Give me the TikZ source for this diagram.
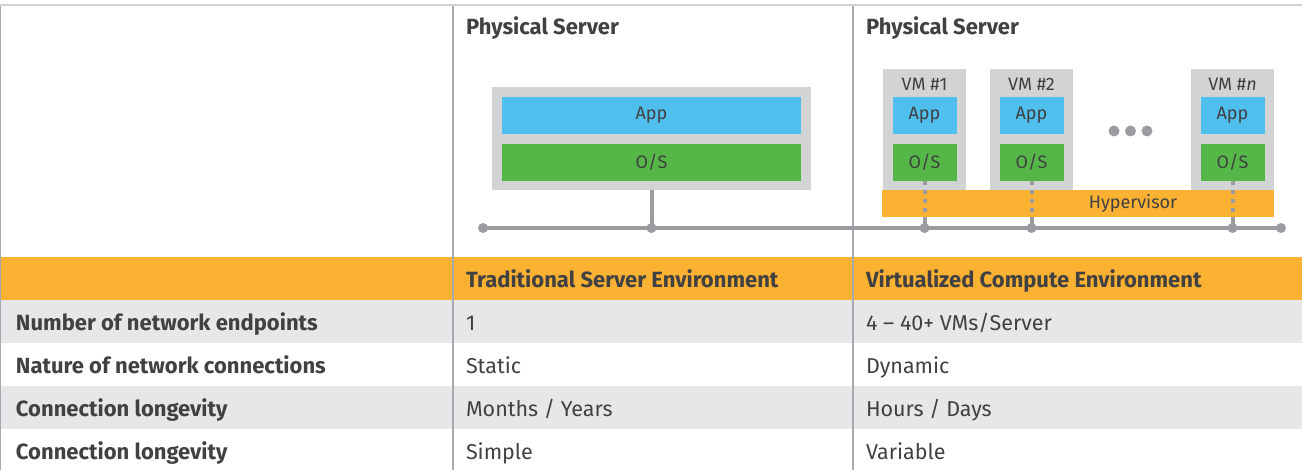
\documentclass[tikz,border=0pt]{standalone}
\usepackage{fontspec}
\setmainfont{Fira Sans}
\definecolor{orangec}{HTML}{FBB131}
\definecolor{bluec}{HTML}{4FBFED}
\definecolor{greenc}{HTML}{55B748}
\definecolor{boxgray}{HTML}{D1D3D4}
\definecolor{rowgray}{HTML}{E6E7E8}
\definecolor{netgray}{HTML}{9B9C9F}
\definecolor{divgray}{HTML}{A7A9AC}
\definecolor{topgray}{HTML}{D0D1D3}
\definecolor{txt}{HTML}{414042}
\begin{document}
\begin{tikzpicture}[x=1pt,y=-1pt,
  every node/.style={inner sep=0pt, outer sep=0pt, text=txt},
  boxg/.style={rectangle, fill=boxgray, anchor=center},
  appbox/.style={rectangle, fill=bluec, minimum height=37pt, font=\fontsize{18}{21}\selectfont},
  osbox/.style={rectangle, fill=greenc, minimum height=37pt, font=\fontsize{18}{21}\selectfont},
  vmlabel/.style={font=\fontsize{18}{21}\selectfont},
  hdr/.style={anchor=base west, font=\fontsize{22}{26}\bfseries},
  rowlab/.style={anchor=base west, font=\fontsize{22}{26}\bfseries},
  cell/.style={anchor=base west, font=\fontsize{21.5}{25}\selectfont},
  net/.style={draw=netgray, line width=4pt},
  netdot/.style={circle, fill=netgray, minimum size=10pt},
  vlink/.style={draw=netgray, line width=4pt, dash pattern=on 4pt off 5pt}
]
\useasboundingbox (0,0) rectangle (1302,470);
% table backgrounds
\fill[orangec] (0,257) rectangle (1302,300);
\fill[rowgray] (0,300) rectangle (1302,343);
\fill[rowgray] (0,386) rectangle (1302,429);
% grid lines
\draw[divgray, line width=1.2pt] (453,5) -- (453,470);
\draw[divgray, line width=1.2pt] (853,5) -- (853,470);
\draw[divgray, line width=1.2pt] (0.8,5) -- (0.8,470);
\draw[topgray, line width=2pt] (0,5) -- (1302,5);

% headers
\node[hdr] (ps1) at (466,35) {Physical Server};
\node[hdr] (ps2) at (866,35) {Physical Server};

% network line
\coordinate (netL) at (483,228);
\coordinate (netR) at (1281,228);
\coordinate (j0) at (653,228);
\coordinate (j1) at (924,228);
\coordinate (j2) at (1031,228);
\coordinate (jn) at (1233,228);

% traditional server
\node[boxg, minimum width=319pt, minimum height=103pt] (srv) at (651.5,138.5) {};
\node[appbox, minimum width=299pt] (app0) at (651.5,115.5) {App};
\node[osbox, minimum width=299pt] (os0) at (651.5,162.5) {O/S};

% VMs
\foreach \n/\x/\lab in {1/924.5/{VM \#1}, 2/1031.5/{VM \#2}, n/1232.5/{VM \#\textit{n}}}{
  \node[boxg, minimum width=83pt, minimum height=121pt] (vm\n) at (\x,129.5) {};
  \node[vmlabel] (vml\n) at (\x,84) {\lab};
  \node[appbox, minimum width=64pt] (app\n) at (\x,115.5) {App};
  \node[osbox, minimum width=64pt] (os\n) at (\x,162.5) {O/S};
}
\node[circle, fill=netgray, minimum size=11pt] (d1) at (1114,131) {};
\node[circle, fill=netgray, minimum size=11pt] (d2) at (1130.5,131) {};
\node[circle, fill=netgray, minimum size=11pt] (d3) at (1147,131) {};

% hypervisor
\node[rectangle, fill=orangec, minimum width=392pt, minimum height=27pt] (hyp) at (1078,203.5) {};
\node[vmlabel] (hyplab) at (1133,203) {Hypervisor};

% links
\draw[net] (netL) -- (netR);
\draw[net] (srv.south) -- (srv.south |- j0);
\foreach \n/\j in {1/j1, 2/j2, n/jn}{
  \draw[vlink] (os\n.south) -- (os\n.south |- hyp.south);
  \draw[net] (os\n.south |- hyp.south) -- (os\n.south |- \j);
  \node[netdot] at (os\n.south |- \j) {};
}
\node[netdot] (e0) at (netL) {};
\node[netdot] (e1) at (srv.south |- j0) {};
\node[netdot] (e2) at (netR) {};

% table header
\node[hdr] (h1) at (466,287.5) {Traditional Server Environment};
\node[hdr] (h2) at (866,287.5) {Virtualized Compute Environment};

% rows
\node[rowlab] (r1) at (16,330.5) {Number of network endpoints};
\node[rowlab] (r2) at (16,373.5) {Nature of network connections};
\node[rowlab] (r3) at (16,416.5) {Connection longevity};
\node[rowlab] (r4) at (16,459.5) {Connection longevity};
\node[cell] (c11) at (466,330.5) {1};
\node[cell] (c21) at (466,373.5) {Static};
\node[cell] (c31) at (466,416.5) {Months / Years};
\node[cell] (c41) at (466,459.5) {Simple};
\node[cell] (c12) at (866,330.5) {4 – 40+ VMs/Server};
\node[cell] (c22) at (866,373.5) {Dynamic};
\node[cell] (c32) at (866,416.5) {Hours / Days};
\node[cell] (c42) at (866,459.5) {Variable};
\end{tikzpicture}
\end{document}
